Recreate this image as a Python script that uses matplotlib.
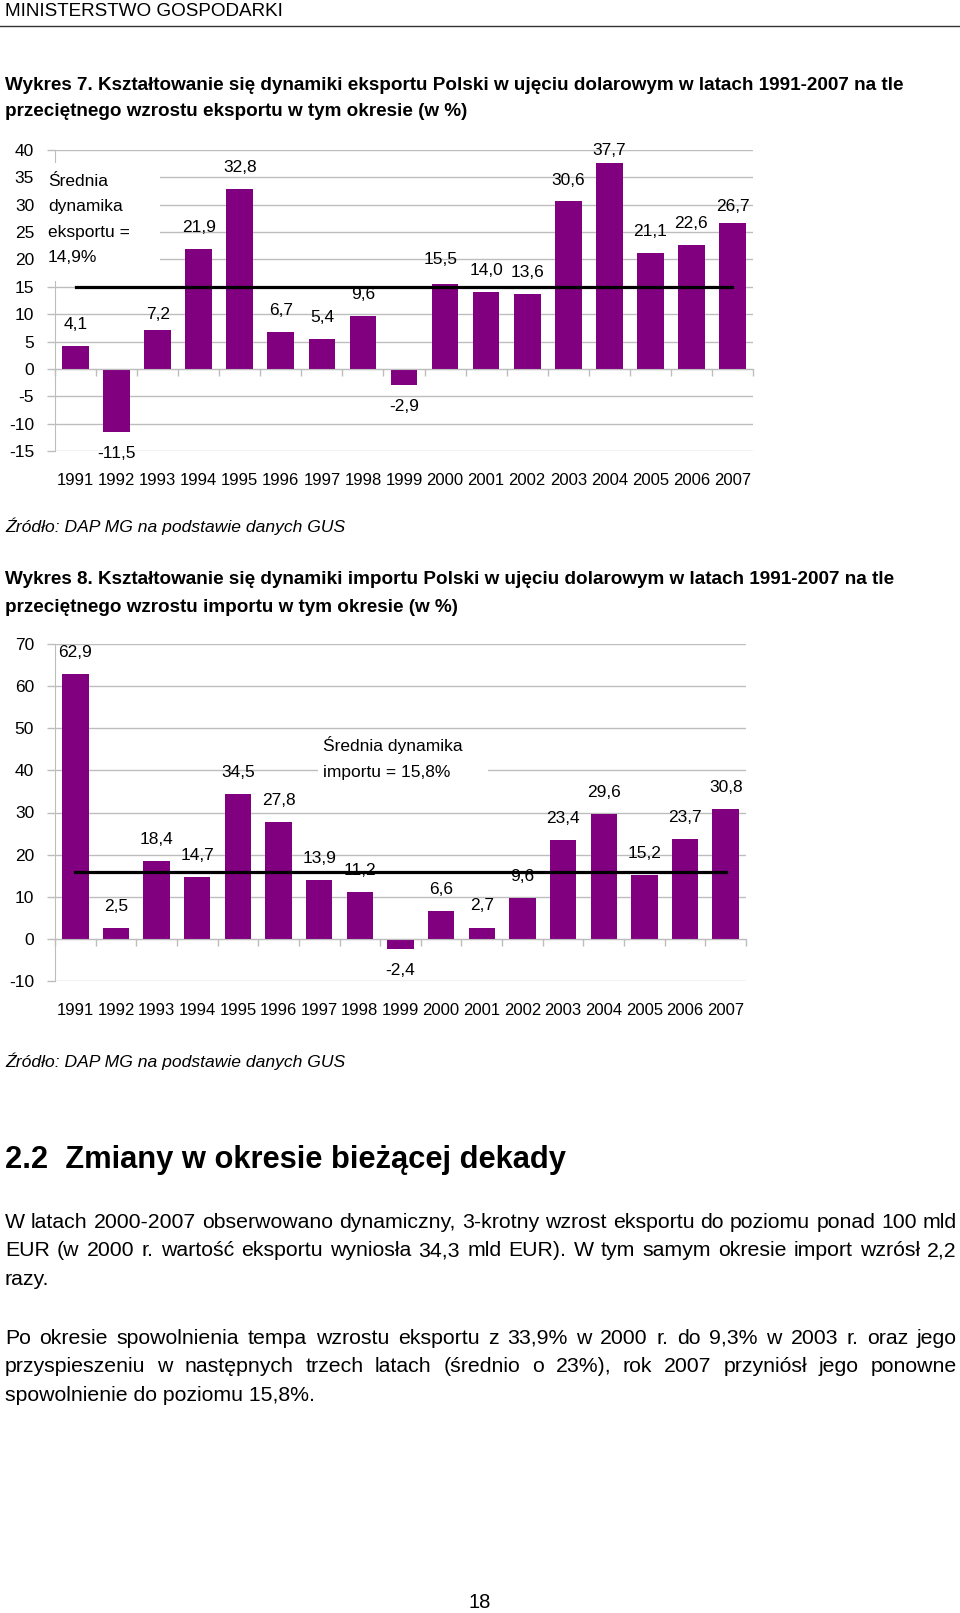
import matplotlib
matplotlib.use("Agg")
import matplotlib.pyplot as plt
from matplotlib.patches import Rectangle

# Dane
years = [str(y) for y in range(1991, 2008)]
export_dyn = [4.1, -11.5, 7.2, 21.9, 32.8, 6.7, 5.4, 9.6, -2.9, 15.5, 14.0, 13.6, 30.6, 37.7, 21.1, 22.6, 26.7]
import_dyn = [62.9, 2.5, 18.4, 14.7, 34.5, 27.8, 13.9, 11.2, -2.4, 6.6, 2.7, 9.6, 23.4, 29.6, 15.2, 23.7, 30.8]
export_mean = 14.9
import_mean = 15.8

NARROW = ["Liberation Sans Narrow", "Liberation Sans", "DejaVu Sans"]
REG = ["Liberation Sans", "DejaVu Sans"]
plt.rcParams["font.family"] = NARROW

W, H = 960, 1613
PURPLE = "#800080"
GRID = "#bdbdbd"

fig = plt.figure(figsize=(W / 100, H / 100), dpi=100)


def px(x, y):
    return x / W, 1 - y / H


def ftext(x, y, s, **kw):
    fx, fy = px(x, y)
    return fig.text(fx, fy, s, **kw)


def fmt(v):
    return f"{v:.1f}".replace(".", ",")


def bar_chart(rect, values, mean, ylim, yticks, label_off=None):
    ax = fig.add_axes(rect)
    xs = list(range(len(values)))
    ax.bar(xs, values, width=0.65, color=PURPLE, zorder=2)
    ax.plot([xs[0], xs[-1]], [mean, mean], color="black", lw=2.3, zorder=4)
    ax.set_xlim(-0.5, len(values) - 0.5)
    ax.set_ylim(*ylim)
    ax.set_yticks(yticks)
    ax.set_yticklabels([str(t) for t in yticks], fontsize=12.5)
    ax.yaxis.grid(True, color=GRID, lw=1)
    ax.set_axisbelow(True)
    for s in ["top", "right"]:
        ax.spines[s].set_visible(False)
    ax.spines["left"].set_color(GRID)
    ax.spines["bottom"].set_color(GRID)
    ax.spines["bottom"].set_position(("data", 0))
    ax.set_xticks([x - 0.5 for x in xs] + [xs[-1] + 0.5])
    ax.set_xticklabels([])
    ax.tick_params(axis="x", length=5, color=GRID, width=1)
    ax.tick_params(axis="y", length=6, color=GRID, width=1, pad=9)
    for x, v in zip(xs, values):
        off = (0, 15.5 if v >= 0 else -15.5)
        if label_off and x in label_off:
            off = label_off[x]
        ax.annotate(fmt(v), xy=(x, v), xytext=off, textcoords="offset points",
                    ha="center", va="center", fontsize=12.5)
    for x, yr in zip(xs, years):
        ax.annotate(yr, xy=(x, 0), xycoords=("data", "axes fraction"),
                    xytext=(0, -21), textcoords="offset points",
                    ha="center", va="center", fontsize=12)
    return ax


# Naglowek strony
ftext(5, 12, "MINISTERSTWO GOSPODARKI", fontsize=13.6, va="center")
fig.add_artist(plt.Line2D([0, 1], [1 - 26 / H] * 2, color="#333333", lw=1))

# Wykres 7
ftext(5, 86, "Wykres 7. Kształtowanie się dynamiki eksportu Polski w ujęciu dolarowym w latach 1991-2007 na tle",
      family=REG, fontweight="bold", fontsize=13.6, va="center")
ftext(5, 112, "przeciętnego wzrostu eksportu w tym okresie (w %)",
      family=REG, fontweight="bold", fontsize=13.6, va="center")

ax1 = bar_chart([55 / W, 1 - 451 / H, 698 / W, 301 / H], export_dyn, export_mean,
                (-15, 40), list(range(-15, 41, 5)),
                label_off={2: (0, 10.5), 9: (-3, 17.5), 13: (0, 8.6), 12: (0, 15), 16: (0, 11.5)})
fig.add_artist(Rectangle(px(47, 281), 113 / W, 118 / H, facecolor="white",
                         edgecolor="none", zorder=5))
for i, s in enumerate(["Średnia", "dynamika", "eksportu =", "14,9%"]):
    ftext(48, 182 + 25 * i, s, fontsize=12.5, va="center", zorder=6)

ftext(5, 526, "Źródło: DAP MG na podstawie danych GUS", fontsize=12.6, style="italic", va="center")

# Wykres 8
ftext(5, 580, "Wykres 8. Kształtowanie się dynamiki importu Polski w ujęciu dolarowym w latach 1991-2007 na tle",
      family=REG, fontweight="bold", fontsize=13.6, va="center")
ftext(5, 607, "przeciętnego wzrostu importu w tym okresie (w %)",
      family=REG, fontweight="bold", fontsize=13.6, va="center")

ax2 = bar_chart([55 / W, 1 - 981 / H, 691 / W, 337 / H], import_dyn, import_mean,
                (-10, 70), list(range(-10, 71, 10)))
fig.add_artist(Rectangle(px(318, 788), 170 / W, 55 / H, facecolor="white",
                         edgecolor="none", zorder=5))
ftext(323, 745, "Średnia dynamika", fontsize=12.5, va="center", zorder=6)
ftext(323, 772, "importu = 15,8%", fontsize=12.5, va="center", zorder=6)

ftext(5, 1061, "Źródło: DAP MG na podstawie danych GUS", fontsize=12.6, style="italic", va="center")

# Tekst
ftext(5, 1160, "2.2  Zmiany w okresie bieżącej dekady", fontsize=22.2, fontweight="bold", va="center")

par1 = ["W latach 2000-2007 obserwowano dynamiczny, 3-krotny wzrost eksportu do poziomu ponad 100 mld",
        "EUR (w 2000 r. wartość eksportu wyniosła 34,3 mld EUR). W tym samym okresie import wzrósł 2,2",
        "razy."]
par2 = ["Po okresie spowolnienia tempa wzrostu eksportu z 33,9% w 2000 r. do 9,3% w 2003 r. oraz jego",
        "przyspieszeniu w następnych trzech latach (średnio o 23%), rok 2007 przyniósł jego ponowne",
        "spowolnienie do poziomu 15,8%."]

renderer = fig.canvas.get_renderer()


def justify(lines, y0, dy, x0=5, x1=957, size=15.3):
    for k, line in enumerate(lines):
        y = y0 + k * dy
        if k == len(lines) - 1:
            ftext(x0, y, line, fontsize=size, va="center")
            continue
        words = line.split()
        objs = [ftext(x0, y, w, fontsize=size, va="center") for w in words]
        widths = [o.get_window_extent(renderer).width for o in objs]
        gap = (x1 - x0 - sum(widths)) / (len(words) - 1)
        x = x0
        for o, w in zip(objs, widths):
            o.set_position(px(x, y))
            x += w + gap


justify(par1, 1222, 28.7)
justify(par2, 1338, 28.7)

ftext(479.5, 1602, "18", fontsize=14.5, ha="center", va="center")

fig.savefig("out.png", dpi=100)
